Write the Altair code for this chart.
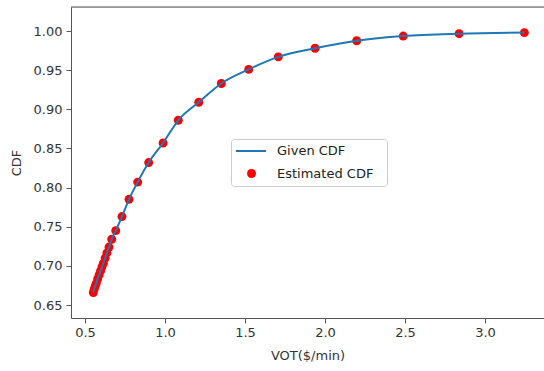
import altair as alt
import pandas as pd

# Values
vot = [0.552, 0.558, 0.564, 0.571, 0.579, 0.588, 0.597, 0.606, 0.615, 0.626,
       0.637, 0.650, 0.667, 0.692, 0.731, 0.775, 0.829, 0.898, 0.988, 1.083,
       1.211, 1.352, 1.523, 1.708, 1.938, 2.198, 2.489, 2.838, 3.246]
cdf = [0.666, 0.6705, 0.6743, 0.678, 0.6833, 0.6884, 0.6935, 0.6986, 0.7035, 0.710,
       0.7165, 0.724, 0.734, 0.745, 0.763, 0.785, 0.807, 0.832, 0.857, 0.886,
       0.909, 0.933, 0.951, 0.967, 0.978, 0.9876, 0.9936, 0.9966, 0.998]
series = ["Given CDF", "Estimated CDF"]
x_ticks = [0.5, 1.0, 1.5, 2.0, 2.5, 3.0]
y_ticks = [0.65, 0.70, 0.75, 0.80, 0.85, 0.90, 0.95, 1.00]

given = pd.DataFrame({"vot": vot, "cdf": cdf, "series": series[0]})
est = pd.DataFrame({"vot": vot, "cdf": cdf, "series": series[1]})
one = pd.DataFrame({"k": [0]})

FONT = "DejaVu Sans"
AX = "#555555"
TXT = "#333333"

common_leg = dict(
    title=None, orient="none", labelFontSize=13, labelFont=FONT,
    labelColor="#222222", padding=0,
)
leg_line = alt.Legend(symbolType="stroke", symbolSize=900, symbolStrokeWidth=2,
                      labelOffset=10, legendX=164, legendY=128, **common_leg)
leg_pt = alt.Legend(symbolType="circle", symbolSize=80, symbolStrokeWidth=0,
                    symbolOffset=10, labelOffset=19, legendX=164, legendY=160,
                    **common_leg)

x_enc = alt.X(
    "vot:Q",
    scale=alt.Scale(domain=[0.4125, 3.3688], nice=False, zero=False),
    axis=alt.Axis(
        title="VOT($/min)", values=x_ticks, format=".1f", grid=False,
        domainColor=AX, tickColor=AX, tickSize=5, labelPadding=3,
        labelFontSize=13, labelFont=FONT, labelColor=TXT,
        titleFontSize=13, titleFont=FONT, titleFontWeight="normal",
        titleColor=TXT, titlePadding=10,
    ),
)
y_enc = alt.Y(
    "cdf:Q",
    scale=alt.Scale(domain=[0.6334, 1.0307], nice=False, zero=False),
    axis=alt.Axis(
        title="CDF", values=y_ticks, format=".2f", grid=False,
        domainColor=AX, tickColor=AX, tickSize=5, labelPadding=4,
        labelFontSize=13, labelFont=FONT, labelColor=TXT,
        titleFontSize=13, titleFont=FONT, titleFontWeight="normal",
        titleColor=TXT, titlePadding=10,
    ),
)

points = alt.Chart(est).mark_circle(size=80, opacity=1).encode(
    x=x_enc, y=y_enc,
    fill=alt.Fill("series:N", scale=alt.Scale(domain=[series[1]], range=["#ff0000"]),
                  legend=leg_pt),
)
line = alt.Chart(given).mark_line(strokeWidth=2, interpolate="monotone").encode(
    x=x_enc, y=y_enc,
    stroke=alt.Stroke("series:N", scale=alt.Scale(domain=[series[0]], range=["#1f77b4"]),
                      legend=leg_line),
)
legend_box = alt.Chart(one).mark_rect(
    cornerRadius=3, stroke="#cccccc", strokeWidth=1, fill="white", fillOpacity=0.8
).encode(
    x=alt.value(160.5), x2=alt.value(316.5), y=alt.value(132.5), y2=alt.value(179.5),
)
top_axis = alt.Chart(one).mark_rule(color=AX, strokeWidth=1).encode(
    x=alt.value(0), x2=alt.value(473), y=alt.value(0),
)

chart = alt.layer(points, line, legend_box, top_axis).properties(
    width=473, height=311,
    padding={"left": 71, "top": 7, "right": 0, "bottom": 53},
    autosize=alt.AutoSizeParams(type="none"),
).resolve_scale(fill="independent", stroke="independent").configure_view(
    stroke=None
).configure(background="white")

chart.save("out.html", embed_options={"renderer": "svg", "actions": False})
